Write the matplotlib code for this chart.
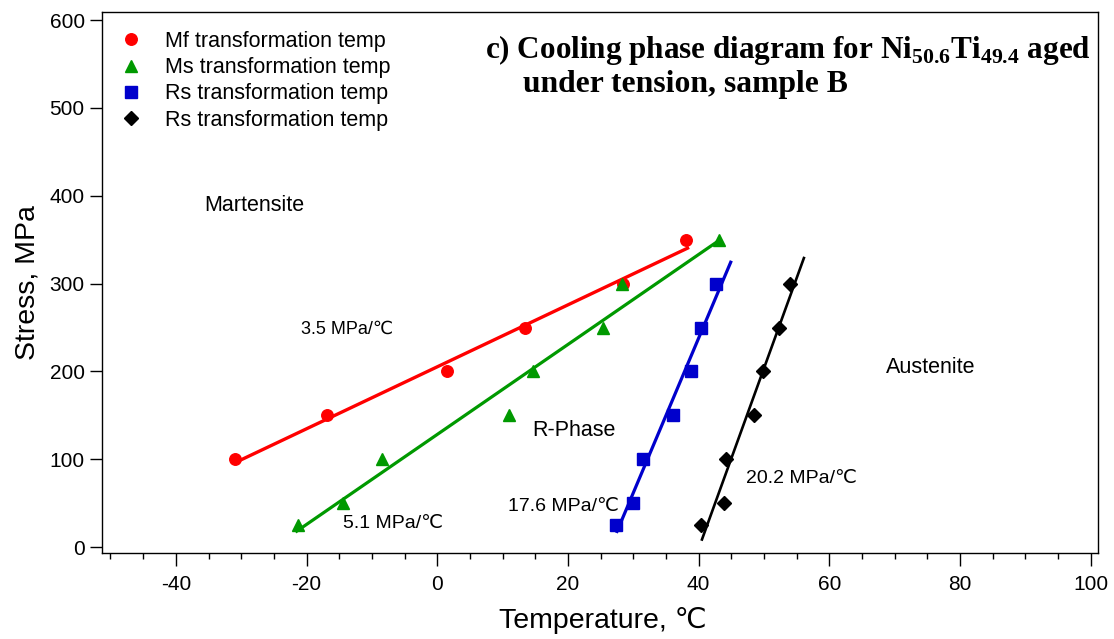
import matplotlib
matplotlib.use("Agg")
import matplotlib.pyplot as plt
import numpy as np
from matplotlib.ticker import MultipleLocator

plt.rcParams['font.family'] = ['Liberation Sans', 'DejaVu Sans']
plt.rcParams['axes.unicode_minus'] = False
plt.rcParams['mathtext.fontset'] = 'custom'
plt.rcParams['mathtext.bf'] = 'Liberation Serif:bold'
plt.rcParams['mathtext.rm'] = 'Liberation Serif:bold'

# --- dados ---
stress = [25, 50, 100, 150, 200, 250, 300, 350]

mf_temp = [-31.0, -16.8, 1.5, 13.5, 28.4, 38.0]
mf_stress = [100, 150, 200, 250, 300, 350]
mf_fit_range = [-31.0, 38.3]

ms_temp = [-21.3, -14.5, -8.4, 10.9, 14.6, 25.3, 28.2, 43.1]
ms_stress = stress
ms_fit_range = [-21.5, 42.6]

rs_temp = [27.3, 29.9, 31.5, 36.0, 38.85, 40.3, 42.6]
rs_stress = [25, 50, 100, 150, 200, 250, 300]
rs_fit_range = [27.5, 44.9]

rs2_temp = [40.4, 43.9, 44.2, 48.4, 49.8, 52.3, 53.9]
rs2_stress = [25, 50, 100, 150, 200, 250, 300]
rs2_fit_range = [40.5, 56.1]

series = [
    (mf_temp, mf_stress, mf_fit_range, '#ff0000', 'o', 8.3, 2.4, 'Mf transformation temp'),
    (ms_temp, ms_stress, ms_fit_range, '#009900', '^', 9, 2.3, 'Ms transformation temp'),
    (rs_temp, rs_stress, rs_fit_range, '#0000cc', 's', 8.5, 2.3, 'Rs transformation temp'),
    (rs2_temp, rs2_stress, rs2_fit_range, '#000000', 'D', 6.8, 1.9, 'Rs transformation temp'),
]

fig = plt.figure(figsize=(11.14, 6.39), dpi=100)
ax = fig.add_axes([102 / 1114, (639 - 553) / 639, 996 / 1114, 541 / 639])

handles = []
for t, s, rng, cor, mk, ms, lw, rotulo in series:
    a, b = np.polyfit(t, s, 1)
    tx = np.array(rng)
    ax.plot(tx, a * tx + b, color=cor, lw=lw, zorder=2)
    h, = ax.plot(t, s, ls='none', marker=mk, ms=ms, color=cor, mec=cor, label=rotulo, zorder=3)
    handles.append(h)

ax.set_xlim(-51.3, 101.1)
ax.set_ylim(-6.8, 609.3)
ax.xaxis.set_major_locator(MultipleLocator(20))
ax.xaxis.set_minor_locator(MultipleLocator(5))
ax.yaxis.set_major_locator(MultipleLocator(100))
ax.set_xticks(np.arange(-40, 101, 20))
ax.tick_params(axis='x', which='major', direction='out', length=9, width=1, labelsize=15, pad=7)
ax.tick_params(axis='x', which='minor', direction='out', length=4.5, width=1)
ax.tick_params(axis='y', which='major', direction='out', length=8.5, width=1, labelsize=15, pad=4)
ax.tick_params(top=False, right=False)
for sp in ax.spines.values():
    sp.set_linewidth(1.0)

ax.set_xlabel('Temperature, ℃', fontsize=20.5)
ax.set_ylabel('Stress, MPa', fontsize=20.5)
ax.xaxis.set_label_coords(0.5025, -0.1007)
ax.yaxis.set_label_coords(-0.062, 0.5)

ax.legend(handles=handles, loc='upper left', bbox_to_anchor=(0.018, 0.9655), frameon=False,
          fontsize=15.5, handlelength=1.0, handletextpad=1.1, labelspacing=0.25,
          borderaxespad=0, borderpad=0)

# rótulos das regiões e inclinações
ax.text(-35.6, 383, 'Martensite', fontsize=15.5, va='baseline')
ax.text(68.6, 198.5, 'Austenite', fontsize=15.5, va='baseline')
ax.text(14.6, 126.4, 'R-Phase', fontsize=15.5, va='baseline')
ax.text(-20.8, 243.4, '3.5 MPa/℃', fontsize=13, va='baseline')
ax.text(-14.4, 22, '5.1 MPa/℃', fontsize=14, va='baseline')
ax.text(10.8, 41, '17.6 MPa/℃', fontsize=14, va='baseline')
ax.text(47.3, 72.5, '20.2 MPa/℃', fontsize=14, va='baseline')

# título em duas linhas
fig.text(485 / 1114, 1 - 58 / 639,
         r'c) Cooling phase diagram for Ni$_{\mathbf{50.6}}$Ti$_{\mathbf{49.4}}$ aged',
         family='Liberation Serif', weight='bold', fontsize=22.4, va='baseline')
fig.text(523 / 1114, 1 - 92 / 639, 'under tension, sample B',
         family='Liberation Serif', weight='bold', fontsize=22.8, va='baseline')

fig.savefig('out.png', dpi=100)
